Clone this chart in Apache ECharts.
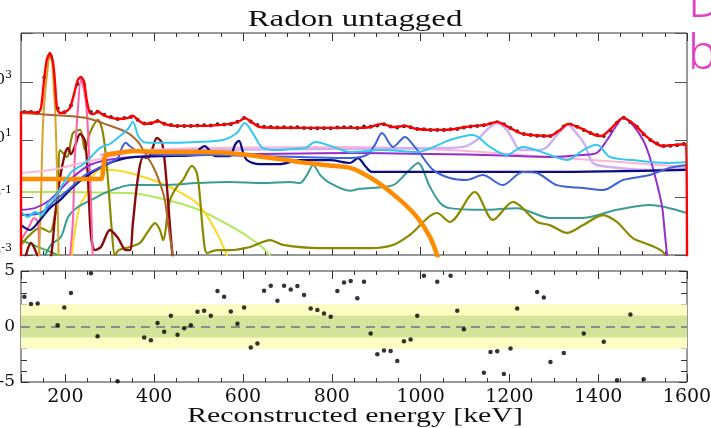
<!DOCTYPE html>
<html><head><meta charset="utf-8">
<script src="https://cdn.jsdelivr.net/npm/echarts@6/dist/echarts.min.js"></script>
<style>html,body{margin:0;padding:0;background:#fff}#c{width:711px;height:428px}</style>
</head><body><div id="c"></div>
<script>
// ---- tick labels ----
const xTickLabels = [200, 400, 600, 800, 1000, 1200, 1400, 1600];
const yTickExponents = [-3, -1, 1, 3];          // top panel, labelled as 10^n
const residualTickLabels = [-5, 0, 5];

// ---- data histogram (15 keV bins), values are log10(counts) ----
const binCenters = [107.5,122.5,137.5,152.5,167.5,182.5,197.5,212.5,227.5,242.5,
257.5,272.5,287.5,302.5,317.5,332.5,347.5,362.5,377.5,392.5,
407.5,422.5,437.5,452.5,467.5,482.5,497.5,512.5,527.5,542.5,
557.5,572.5,587.5,602.5,617.5,632.5,647.5,662.5,677.5,692.5,
707.5,722.5,737.5,752.5,767.5,782.5,797.5,812.5,827.5,842.5,
857.5,872.5,887.5,902.5,917.5,932.5,947.5,962.5,977.5,992.5,
1007.5,1022.5,1037.5,1052.5,1067.5,1082.5,1097.5,1112.5,1127.5,1142.5,
1157.5,1172.5,1187.5,1202.5,1217.5,1232.5,1247.5,1262.5,1277.5,1292.5,
1307.5,1322.5,1337.5,1352.5,1367.5,1382.5,1397.5,1412.5,1427.5,1442.5,
1457.5,1472.5,1487.5,1502.5,1517.5,1532.5,1547.5,1562.5,1577.5,1592.5];
const dataLog = [1.97,1.97,1.95,3.17,3.89,2.10,1.96,2.20,2.95,2.92,
1.97,1.98,1.88,1.80,1.73,1.76,1.80,1.70,1.57,1.58,
1.66,1.56,1.52,1.49,1.49,1.49,1.50,1.51,1.50,1.55,
1.54,1.55,1.63,1.76,1.64,1.52,1.46,1.45,1.43,1.44,
1.43,1.44,1.42,1.41,1.41,1.41,1.41,1.43,1.44,1.44,
1.42,1.47,1.46,1.50,1.55,1.47,1.43,1.48,1.44,1.38,
1.37,1.35,1.35,1.35,1.37,1.38,1.43,1.47,1.49,1.51,
1.56,1.62,1.55,1.42,1.30,1.21,1.17,1.15,1.14,1.14,
1.26,1.47,1.54,1.46,1.35,1.24,1.17,1.14,1.33,1.60,
1.77,1.62,1.45,1.20,1.00,0.88,0.79,0.80,0.82,0.86];
const residuals = [2.68,2.02,2.08,null,null,0.12,1.72,3.02,null,null,
4.79,-0.87,null,null,-4.93,null,null,null,-0.99,-1.23,
0.31,-0.48,0.97,-0.75,-0.15,0.12,1.33,1.42,0.97,3.20,
2.68,1.36,0.24,1.72,-1.90,-1.54,3.22,3.68,2.32,3.68,
3.34,3.65,2.83,1.63,1.48,1.18,0.88,3.20,3.97,4.10,
2.55,4.04,-0.63,-2.50,-2.17,-2.20,-3.10,-1.32,-1.17,0.97,
4.58,null,4.04,null,4.58,1.42,-0.24,null,null,-4.16,
-2.29,-2.23,-4.27,-1.98,1.63,null,null,3.11,2.62,-3.19,
null,-2.38,null,null,-0.63,null,null,-1.38,null,-4.84,
null,1.08,null,-4.75,null,null,null,null,null,null];

// ---- fit curves: [energy keV, log10(counts)] ----
const totalFit = [[100,-3.5],[100,1.97],[120,1.97],[138,1.94],[145,2.11],[152,3.09],[158,3.78],[165,4.03],[172,3.71],[177,2.91],[181,2.11],[188,1.94],[199,1.97],[210,2.11],[219,2.57],[228,3.09],[235,3.19],[242,3.02],[248,2.39],[255,1.94],[264,1.90],[273,2.0],[282,1.90],[296,1.80],[318,1.73],[341,1.77],[352,1.84],[363,1.70],[379,1.56],[395,1.59],[408,1.66],[422,1.56],[447,1.49],[503,1.49],[570,1.56],[593,1.66],[604,1.77],[616,1.66],[638,1.45],[728,1.42],[818,1.42],[863,1.42],[886,1.45],[913,1.56],[938,1.45],[965,1.49],[992,1.38],[1044,1.35],[1077,1.38],[1100,1.45],[1122,1.49],[1145,1.52],[1172,1.63],[1201,1.42],[1230,1.21],[1291,1.14],[1314,1.35],[1332,1.56],[1359,1.42],[1393,1.17],[1408,1.14],[1426,1.35],[1456,1.77],[1483,1.52],[1505,1.17],[1528,0.90],[1546,0.79],[1573,0.83],[1598,0.86],[1600,-3.5]];
const brownComp = [[100,1.94],[168,1.87],[244,1.77],[296,1.52],[341,1.24],[364,0.93],[375,0.65],[398,0.06],[413,-0.50],[424,-1.09],[431,-1.89],[440,-2.83],[445,-3.4]];
const orangeComp = [[100,-0.36],[280,-0.36],[284,-0.20],[289,0.44],[300,0.51],[330,0.58],[352,0.62],[420,0.58],[496,0.58],[570,0.55],[645,0.41],[699,0.30],[728,0.23],[803,0.10],[841,0.03],[864,-0.11],[902,-0.46],[954,-1.09],[992,-1.68],[1021,-2.37],[1037,-3.0],[1044,-3.4]];
const cyanComp = [[100,-1.50],[116,-1.68],[131,-1.50],[147,-1.61],[161,-1.19],[177,-0.98],[190,-0.64],[214,-0.11],[244,0.20],[278,0.72],[300,0.86],[323,1.14],[341,1.38],[352,1.63],[363,1.17],[372,0.97],[384,0.90],[420,0.90],[496,0.93],[555,1.00],[586,1.24],[604,1.59],[622,1.24],[645,0.72],[683,0.65],[706,0.69],[740,0.72],[763,0.93],[803,0.76],[841,0.58],[915,0.65],[992,0.58],[1066,1.00],[1118,1.17],[1156,0.76],[1194,0.48],[1230,0.76],[1291,0.48],[1330,0.30],[1366,0.65],[1397,0.83],[1426,0.41],[1478,0.30],[1555,0.20],[1600,0.23]];
const royalComp = [[100,-1.61],[143,-1.54],[177,-1.09],[206,-0.74],[244,-0.22],[289,0.13],[318,0.37],[327,0.72],[336,0.90],[345,0.79],[361,0.62],[420,0.48],[532,0.48],[616,0.44],[728,0.41],[841,0.37],[879,0.48],[897,0.83],[913,1.24],[938,0.76],[965,1.10],[983,0.83],[998,0.55],[1028,-0.04],[1066,-0.32],[1104,-0.39],[1140,-0.22],[1185,-0.57],[1230,-0.11],[1262,-0.15],[1307,-0.57],[1366,-0.67],[1411,-0.74],[1456,-0.39],[1516,-0.22],[1561,0.03],[1600,0.13]];
const navyComp = [[100,-1.96],[120,-2.13],[143,-1.78],[165,-1.37],[188,-1.09],[210,-0.74],[244,-0.29],[289,0.13],[318,0.30],[357,0.41],[424,0.44],[492,0.48],[503,0.69],[514,0.79],[525,0.62],[537,0.44],[570,0.44],[582,0.83],[591,0.97],[600,0.58],[609,0.30],[638,0.16],[683,0.16],[728,0.30],[796,0.30],[841,0.20],[859,0.37],[877,0.06],[890,-0.11],[1066,-0.11],[1291,-0.11],[1600,-0.04]];
const purpleComp = [[100,-1.43],[131,-1.37],[165,-1.09],[210,-0.39],[255,0.13],[323,0.37],[413,0.44],[841,0.55],[1140,0.48],[1291,0.41],[1366,0.48],[1397,0.55],[1420,1.0],[1442,1.52],[1456,1.77],[1478,1.52],[1501,1.00],[1516,0.41],[1532,-0.50],[1544,-1.33],[1550,-2.23],[1555,-3.0],[1558,-3.4]];
const lavenderComp = [[278,0.48],[323,0.58],[503,0.65],[841,0.69],[1044,0.72],[1095,0.76],[1127,1.0],[1149,1.35],[1172,1.59],[1194,1.35],[1208,1.0],[1224,0.65],[1269,0.65],[1285,0.76],[1307,1.17],[1332,1.52],[1354,1.17],[1370,0.83],[1388,0.20],[1426,0.06],[1516,-0.04],[1600,0.03]];
const pinkComp = [[100,-0.15],[168,-0.04],[244,0.23],[318,0.48],[368,0.62],[503,0.72],[841,0.76],[1066,0.65],[1291,0.41],[1449,0.23],[1600,0.06]];
const goldenrodComp = [[140,-3.3],[145,-1.09],[149,1.35],[154,2.57],[161,3.61],[165,3.98],[170,3.71],[174,2.74],[177,2.04],[181,-0.04],[185,-3.3]];
const hotPinkComp = [[100,-2.48],[111,-2.20],[120,-1.96],[129,-1.71],[138,-1.85],[147,-3.5],[205,-3.5],[210,-3.07],[217,-1.78],[221,0.30],[228,2.04],[235,3.09],[242,2.74],[248,2.04],[253,0.65],[257.5,-1.09],[262,-3.3]];
const maroonComp = [[104,-3.4],[110,-3.07],[116,-2.76],[122.5,-2.58],[129,-2.72],[138,-3.07],[150,-3.5],[165,-3.3],[176.5,-1.68],[188,-0.32],[199,0.51],[206,0.72],[212.5,0.51],[221.5,0.79],[233,1.21],[244,0.97],[251,-0.39],[257.5,-2.30],[266.5,-2.83],[280,-2.72],[300.5,-2.13],[318.5,-2.41],[336.5,-2.83],[345.5,-2.83],[352,-1.89],[363.5,-0.29],[375,0.41],[386,0.37],[395,0.65],[406,1.07],[417.5,0.90],[424,0.20],[431,-1.09],[440,-2.83],[445,-3.4]];
const oliveComp = [[100,-2.65],[120,-2.30],[143,-2.06],[165,-2.20],[176.5,-1.61],[183,-1.09],[188,0.65],[203.5,0.41],[217,1.24],[233,1.35],[244,0.65],[255,1.24],[273.5,1.70],[284.5,1.24],[293.5,0.06],[305,-2.23],[311.5,-3.0],[320,-2.83],[345.5,-2.72],[368,-2.58],[384,-2.23],[402,-1.89],[413,-2.13],[420,-2.48],[435.5,-1.09],[451,-0.63],[465,-0.39],[485,0.10],[496,-0.15],[503,-0.98],[510,-2.23],[519,-2.93],[541,-2.83],[570,-2.83],[616,-2.72],[661,-2.48],[690,-2.65],[773,-2.76],[886,-2.76],[938,-2.65],[976,-2.30],[1037,-1.54],[1066,-1.85],[1122,-0.81],[1163,-1.78],[1208,-1.15],[1262,-1.85],[1291,-1.96],[1330,-2.23],[1366,-1.96],[1411,-1.61],[1442,-1.85],[1478,-2.41],[1516,-2.65],[1546,-2.90],[1561,-3.4]];
const tealComp = [[149,-3.2],[167.5,-2.65],[190,-2.37],[206,-1.68],[228,-1.33],[257.5,-1.09],[289,-0.84],[318.5,-0.67],[348,-0.57],[420,-0.57],[496,-0.50],[570,-0.46],[645,-0.50],[706,-0.46],[728,-0.50],[744,-0.22],[758,0.13],[774,-0.22],[796,-0.50],[841,-0.77],[863,-0.70],[938,-0.57],[968,-0.15],[994,0.20],[1021,-0.63],[1044,-1.19],[1066,-1.37],[1140,-1.43],[1217,-1.37],[1291,-1.71],[1366,-1.71],[1442,-1.43],[1516,-1.26],[1600,-1.54]];
const yellowComp = [[212,-3.3],[223.5,-1.96],[233,-1.26],[246.5,-0.91],[260,-0.29],[278,-0.04],[300.5,-0.04],[345.5,-0.15],[420,-0.53],[458,-0.81],[496,-1.19],[519,-1.64],[541,-2.23],[555,-2.69],[566,-3.1]];
const lightGreenComp = [[100,-0.81],[188,-0.81],[278,-0.83],[345.5,-0.84],[420,-1.05],[496,-1.40],[555,-1.85],[609,-2.34],[645,-2.76],[665,-3.1]];
const greenComp = [[100,-2.48],[138,-2.72],[167.5,-2.90],[190,-3.07],[200,-3.3]];

const components = [
  {data: lightGreenComp, color: '#b2e85c', width: 2},
  {data: greenComp, color: '#3cb83c', width: 2},
  {data: yellowComp, color: '#ffd820', width: 2},
  {data: tealComp, color: '#3a9c96', width: 2},
  {data: oliveComp, color: '#8a8a00', width: 2.2},
  {data: maroonComp, color: '#8b0a0a', width: 2.4},
  {data: hotPinkComp, color: '#ff62aa', width: 2},
  {data: goldenrodComp, color: '#d6a328', width: 2},
  {data: brownComp, color: '#a8682e', width: 2},
  {data: pinkComp, color: '#ffb4d2', width: 2},
  {data: lavenderComp, color: '#cdb0f5', width: 2.4},
  {data: purpleComp, color: '#9530cc', width: 2},
  {data: navyComp, color: '#0c0c82', width: 2.2},
  {data: royalComp, color: '#4062d8', width: 2},
  {data: orangeComp, color: '#ff8c00', width: 4.5},
  {data: cyanComp, color: '#33c9ef', width: 2}
];

const serif = '"DejaVu Serif", serif';
const series = components.map(c => ({
  type: 'line', xAxisIndex: 0, yAxisIndex: 0, data: c.data, smooth: 0.3,
  symbol: 'none', silent: true, lineStyle: {color: c.color, width: c.width}
}));
series.push({type: 'line', xAxisIndex: 0, yAxisIndex: 0, data: totalFit, smooth: 0.25,
  symbol: 'none', silent: true, lineStyle: {color: '#ff0000', width: 2.4}});
series.push({type: 'scatter', xAxisIndex: 0, yAxisIndex: 0,
  data: binCenters.map((e, i) => [e, dataLog[i]]),
  symbol: 'circle', symbolSize: 4, itemStyle: {color: '#000'}, silent: true});
series.push({type: 'scatter', xAxisIndex: 2, yAxisIndex: 2,
  data: binCenters.map((e, i) => [e, residuals[i]]).filter(p => p[1] !== null),
  symbol: 'circle', symbolSize: 4.5, itemStyle: {color: '#000'}, silent: true, z: 5,
  markArea: {silent: true, data: [
    [{yAxis: -2, itemStyle: {color: '#fdfdc3'}}, {yAxis: 2}],
    [{yAxis: -1, itemStyle: {color: '#d4e59b'}}, {yAxis: 1}]
  ]},
  markLine: {silent: true, symbol: 'none', label: {show: false},
    lineStyle: {color: '#8c8c8c', width: 2, type: [9, 6]}, data: [{yAxis: 0}]}
});

function xAx(grid, pos, labels) {
  return {type: 'value', gridIndex: grid, position: pos, min: 100, max: 1600, splitNumber: 7,
    axisLine: {show: false, onZero: false}, splitLine: {show: false},
    axisTick: {inside: true, length: 8, lineStyle: {color: '#333'}},
    minorTick: {show: true, splitNumber: 4, length: 4, lineStyle: {color: '#333'}},
    axisLabel: {show: labels, margin: 6, color: '#111', fontFamily: serif, fontSize: 19,
      formatter: v => xTickLabels.includes(v) ? String(v) : ''}};
}
function yAx(grid, pos, min, max, interval) {
  return {type: 'value', gridIndex: grid, position: pos, min: min, max: max, interval: interval,
    axisLine: {show: false, onZero: false}, splitLine: {show: false}};
}
const yTop = yAx(0, 'left', -3, 4.72, 2);
yTop.axisTick = {inside: true, length: 12, lineStyle: {color: '#555'}};
yTop.axisLabel = {margin: 9, color: '#111', fontFamily: serif,
  formatter: v => yTickExponents.includes(v) ? '{b|10}{s|' + v + '}' : '',
  rich: {b: {fontFamily: serif, fontSize: 15, color: '#111', padding: [0, 0, 4, 0]},
         s: {fontFamily: serif, fontSize: 11, color: '#111', padding: [0, 0, 14, 0]}}};
const yTopR = yAx(0, 'right', -3, 4.72, 2);
yTopR.axisTick = {inside: true, length: 12, lineStyle: {color: '#555'}};
yTopR.axisLabel = {show: false};
const yRes = yAx(1, 'left', -5, 5, 5);
yRes.axisTick = {inside: true, length: 8, lineStyle: {color: '#333'}};
yRes.minorTick = {show: true, splitNumber: 5, length: 6, lineStyle: {color: '#333'}};
yRes.axisLabel = {margin: 6, color: '#111', fontFamily: serif, fontSize: 17,
  formatter: v => residualTickLabels.includes(v) ? String(v) : ''};
const yResR = yAx(1, 'right', -5, 5, 5);
yResR.axisTick = {inside: true, length: 8, lineStyle: {color: '#333'}};
yResR.minorTick = {show: true, splitNumber: 5, length: 6, lineStyle: {color: '#333'}};
yResR.axisLabel = {show: false};

const option = {
  animation: false,
  backgroundColor: '#fff',
  grid: [
    {left: 21, right: 24, top: 33, height: 222, show: true, borderColor: '#333', borderWidth: 1,
      outerBoundsMode: 'none', containLabel: false},
    {left: 21, right: 24, top: 271, height: 111, show: true, borderColor: '#333', borderWidth: 1,
      outerBoundsMode: 'none', containLabel: false}
  ],
  xAxis: [xAx(0, 'bottom', false), xAx(0, 'top', false), xAx(1, 'bottom', true), xAx(1, 'top', false)],
  yAxis: [yTop, yTopR, yRes, yResR],
  graphic: [
    {type: 'text', x: 355, y: 20, scaleX: 1.43, silent: true,
      style: {text: 'Radon untagged', font: '23px "Liberation Serif"', fill: '#111',
        textAlign: 'center', textVerticalAlign: 'middle'}},
    {type: 'text', x: 355, y: 416, scaleX: 1.42, silent: true,
      style: {text: 'Reconstructed energy [keV]', font: '21px "Liberation Serif"', fill: '#111',
        textAlign: 'center', textVerticalAlign: 'middle'}},
    {type: 'text', x: 688, y: 3, silent: true,
      style: {text: 'D', font: '300 48px "Noto Sans"', fill: '#e23fc7',
        textAlign: 'left', textVerticalAlign: 'middle'}},
    {type: 'text', x: 688, y: 55, silent: true,
      style: {text: 'b', font: '300 48px "Noto Sans"', fill: '#e23fc7',
        textAlign: 'left', textVerticalAlign: 'middle'}}
  ],
  series: series
};
const chart = echarts.init(document.getElementById('c'), null, {renderer: 'canvas'});
chart.setOption(option);
</script></body></html>
